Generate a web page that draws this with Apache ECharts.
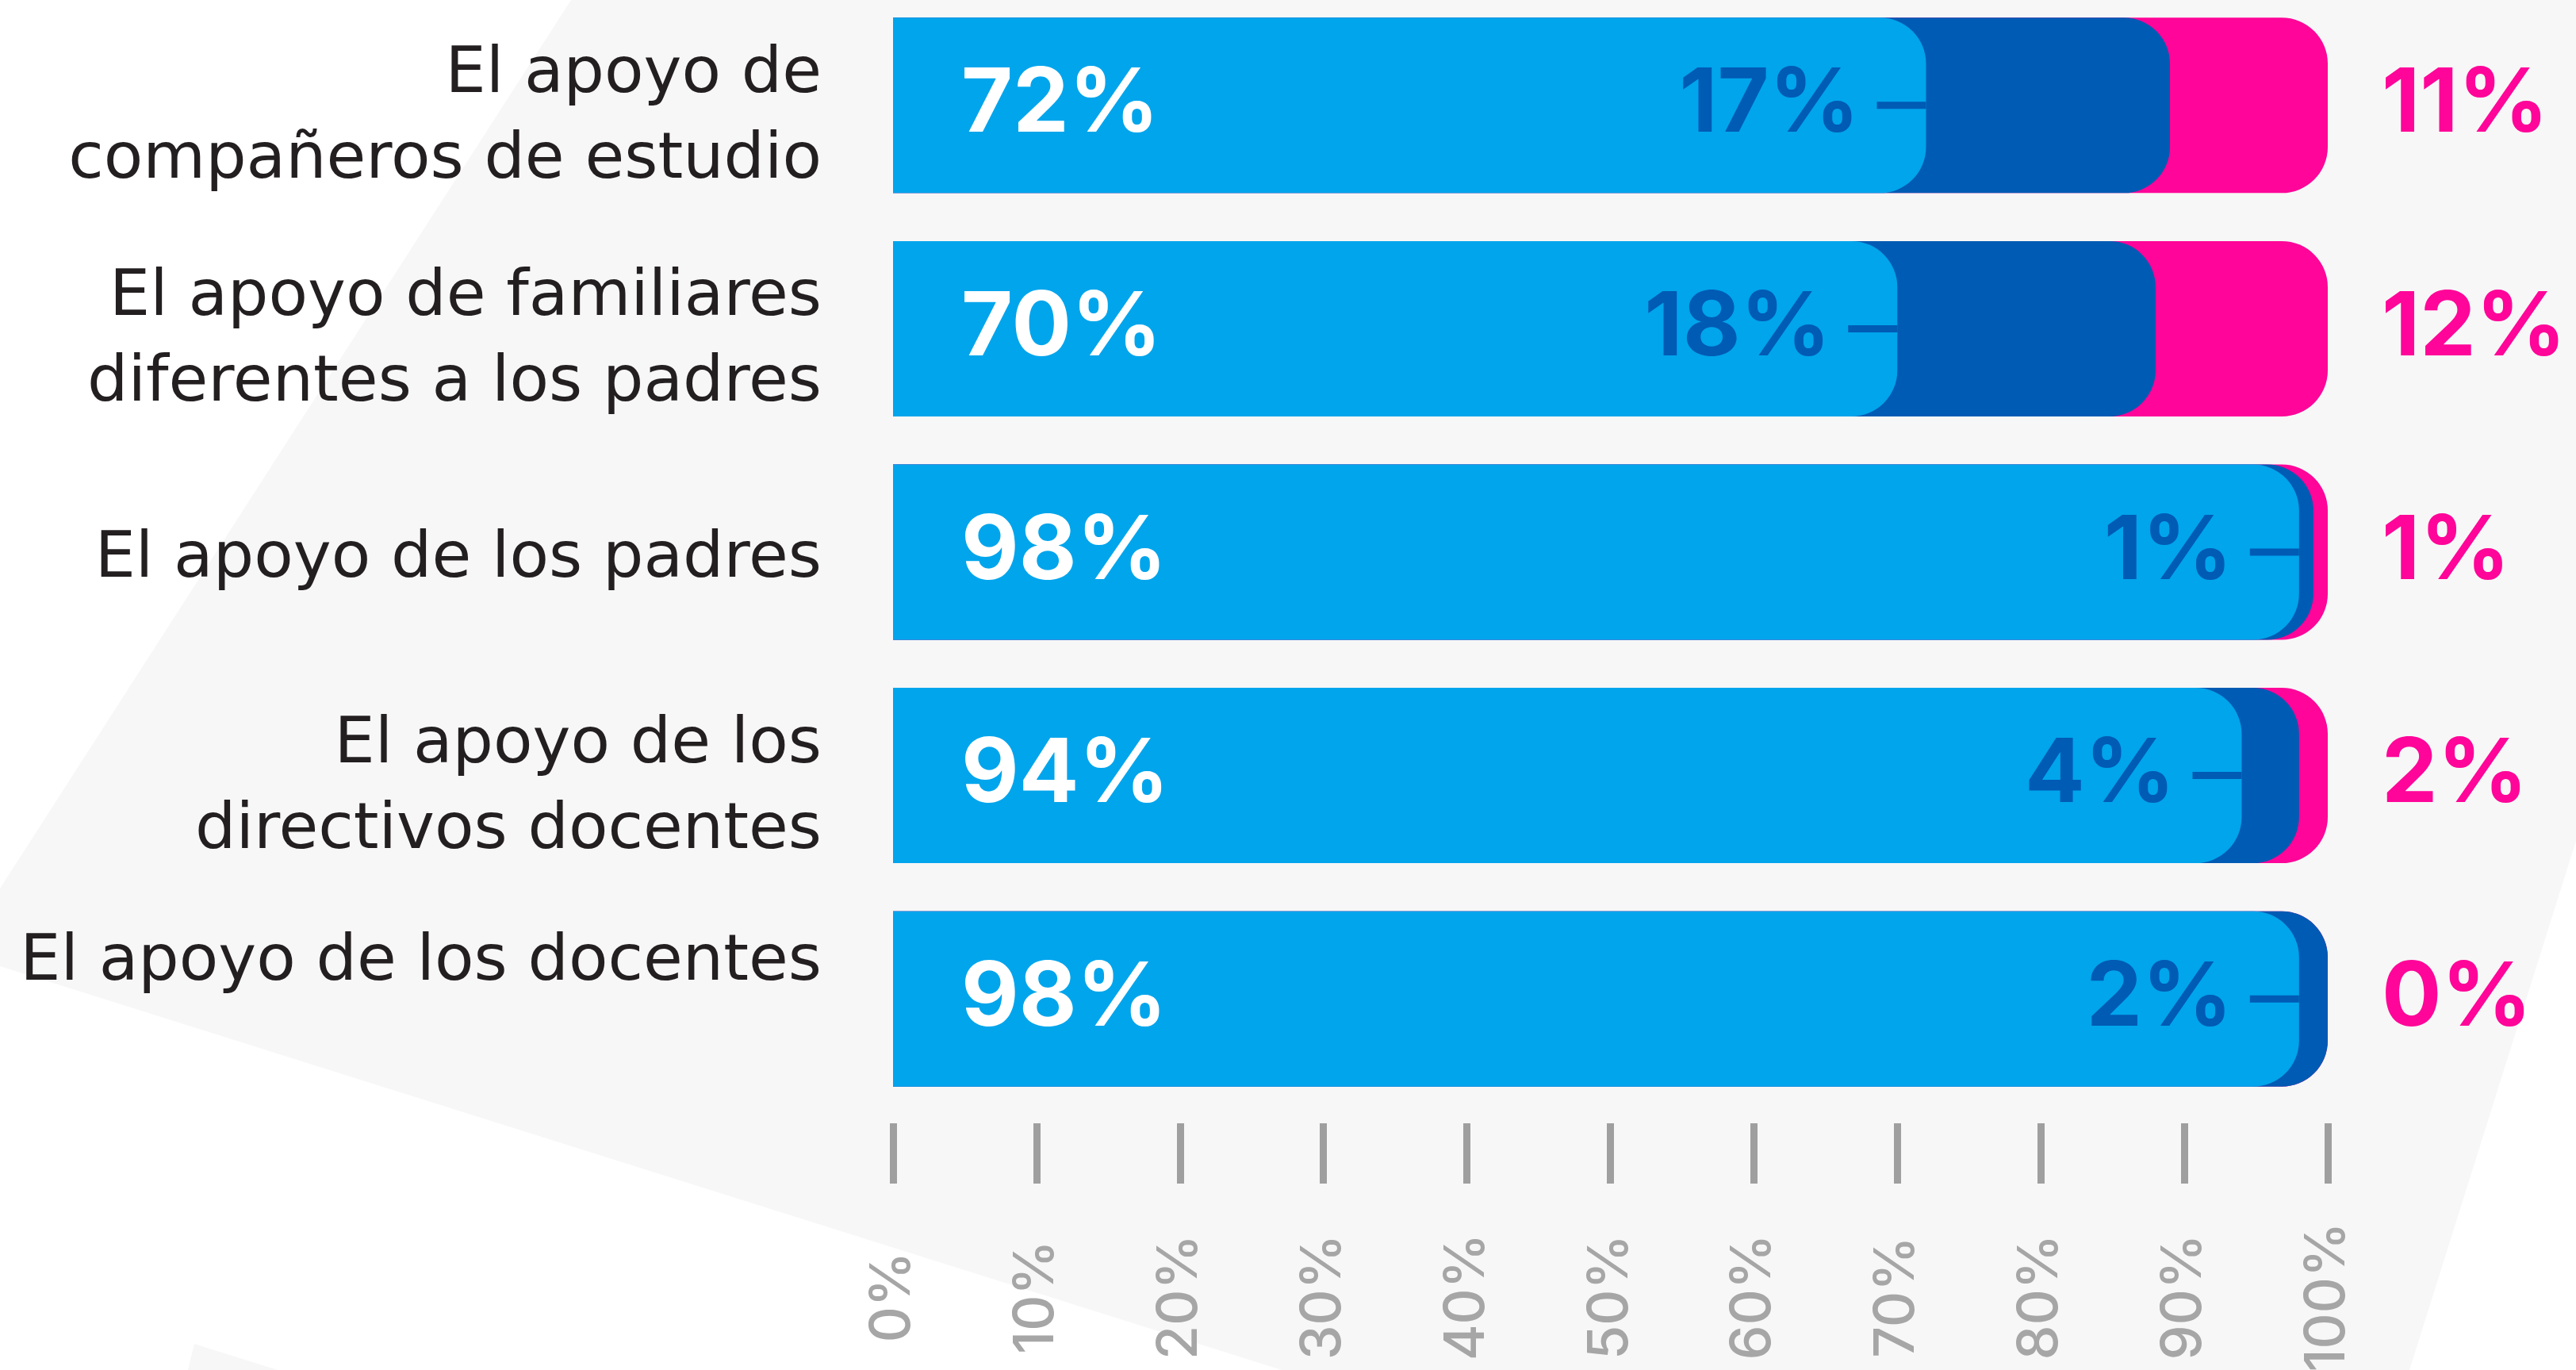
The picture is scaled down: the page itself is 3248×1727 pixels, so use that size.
<!DOCTYPE html>
<html>
<head>
<meta charset="utf-8">
<script src="https://cdn.jsdelivr.net/npm/echarts@6/dist/echarts.min.js"></script>
<style>
  html, body { margin: 0; padding: 0; background: #ffffff; }
  #chart { width: 3248px; height: 1727px; }
</style>
</head>
<body>
<div id="chart"></div>
<script>
const categories = [
  'El apoyo de\ncompañeros de estudio',
  'El apoyo de familiares\ndiferentes a los padres',
  'El apoyo de los padres',
  'El apoyo de los\ndirectivos docentes',
  'El apoyo de los docentes'
];
const valoresAlto = [72, 70, 98, 94, 98];
const valoresMedio = [17, 18, 1, 4, 2];
const valoresBajo = [11, 12, 1, 2, 0];
const tickLabels = ['0%', '10%', '20%', '30%', '40%', '50%', '60%', '70%', '80%', '90%', '100%'];

const colorAlto = '#00a5ec';
const colorMedio = '#005bb4';
const colorBajo = '#ff0599';
const fontNum = 'Inter';
const radio = [0, 58, 58, 0];

// las barras se superponen: cada serie va de 0 a su valor acumulado
const hastaMedio = valoresAlto.map((v, i) => v + valoresMedio[i]);
const hastaBajo = hastaMedio.map((v, i) => v + valoresBajo[i]);

// estilo de texto de las categorias; el padding solo desplaza el texto en vertical
function estiloCat(padding) {
  return {
    fontFamily: 'DejaVu Sans',
    fontSize: 81,
    lineHeight: 108,
    color: '#231f20',
    padding: padding
  };
}

const chart = echarts.init(document.getElementById('chart'));

const option = {
  animation: false,
  backgroundColor: '#ffffff',
  graphic: [
    {
      type: 'polygon',
      z: -10,
      silent: true,
      shape: { points: [[720, 0], [3248, 0], [3248, 1060], [3038, 1727], [1616, 1727], [0, 1218], [0, 1120]] },
      style: { fill: '#f7f7f7' }
    },
    {
      type: 'polygon',
      z: -10,
      silent: true,
      shape: { points: [[245, 1694], [350, 1727], [237, 1727]] },
      style: { fill: '#f7f7f7' }
    }
  ],
  grid: {
    left: 1126,
    right: 313,
    top: -8,
    bottom: 327,
    containLabel: false,
    outerBoundsMode: 'none'
  },
  xAxis: {
    type: 'value',
    min: 0,
    max: 100,
    interval: 10,
    offset: 16,
    splitLine: { show: false },
    axisLine: { show: false },
    axisTick: {
      show: true,
      length: 76,
      lineStyle: { color: '#a09fa0', width: 9 }
    },
    axisLabel: {
      rotate: 90,
      align: 'center',
      verticalAlign: 'middle',
      margin: 219,
      fontFamily: fontNum,
      fontWeight: 500,
      fontSize: 70,
      color: '#a6a6a6',
      formatter: (v) => tickLabels[Math.round(v / 10)]
    }
  },
  yAxis: {
    type: 'category',
    inverse: true,
    data: categories,
    axisLine: { show: false },
    axisTick: { show: false },
    splitLine: { show: false },
    axisLabel: {
      margin: 90,
      fontFamily: 'DejaVu Sans',
      fontSize: 81,
      lineHeight: 108,
      color: '#231f20',
      formatter: (value, index) => {
        let estilo = 'uno';
        if (value.indexOf('\n') > -1) estilo = 'dos';
        if (index === categories.length - 1) estilo = 'ult';
        return value.split('\n').map((t) => '{' + estilo + '|' + t + '}').join('\n');
      },
      rich: {
        uno: estiloCat([20, 0, 0, 0]),
        dos: estiloCat([32, 0, 0, 0]),
        ult: estiloCat([0, 0, 90, 0])
      }
    }
  },
  series: [
    {
      name: 'bajo',
      type: 'bar',
      barWidth: 221,
      barGap: '-100%',
      data: hastaBajo,
      itemStyle: { color: colorBajo, borderRadius: radio },
      label: {
        show: true,
        position: 'right',
        distance: 68,
        fontFamily: fontNum,
        fontWeight: 700,
        fontSize: 112,
        color: colorBajo,
        formatter: (p) => valoresBajo[p.dataIndex] + '%'
      }
    },
    {
      name: 'medio',
      type: 'bar',
      barWidth: 221,
      barGap: '-100%',
      data: hastaMedio,
      itemStyle: { color: colorMedio, borderRadius: radio }
    },
    {
      name: 'alto',
      type: 'bar',
      barWidth: 221,
      barGap: '-100%',
      data: valoresAlto,
      itemStyle: { color: colorAlto, borderRadius: radio },
      label: {
        show: true,
        position: 'insideLeft',
        distance: 86,
        fontFamily: fontNum,
        fontWeight: 700,
        fontSize: 112,
        color: '#ffffff',
        formatter: (p) => valoresAlto[p.dataIndex] + '%'
      }
    },
    {
      // serie auxiliar sin color, solo para la etiqueta del valor medio con su guion
      name: 'etiquetaMedio',
      type: 'bar',
      barWidth: 221,
      barGap: '-100%',
      silent: true,
      data: valoresAlto,
      itemStyle: { color: 'rgba(0,0,0,0)' },
      label: {
        show: true,
        position: 'insideRight',
        distance: 0,
        formatter: (p) => '{t|' + valoresMedio[p.dataIndex] + '%}{l|}',
        rich: {
          t: {
            fontFamily: fontNum,
            fontWeight: 700,
            fontSize: 112,
            color: colorMedio,
            padding: [0, 22, 0, 0]
          },
          l: {
            width: 62,
            height: 9,
            backgroundColor: colorMedio
          }
        }
      }
    }
  ]
};

chart.setOption(option);
</script>
</body>
</html>
